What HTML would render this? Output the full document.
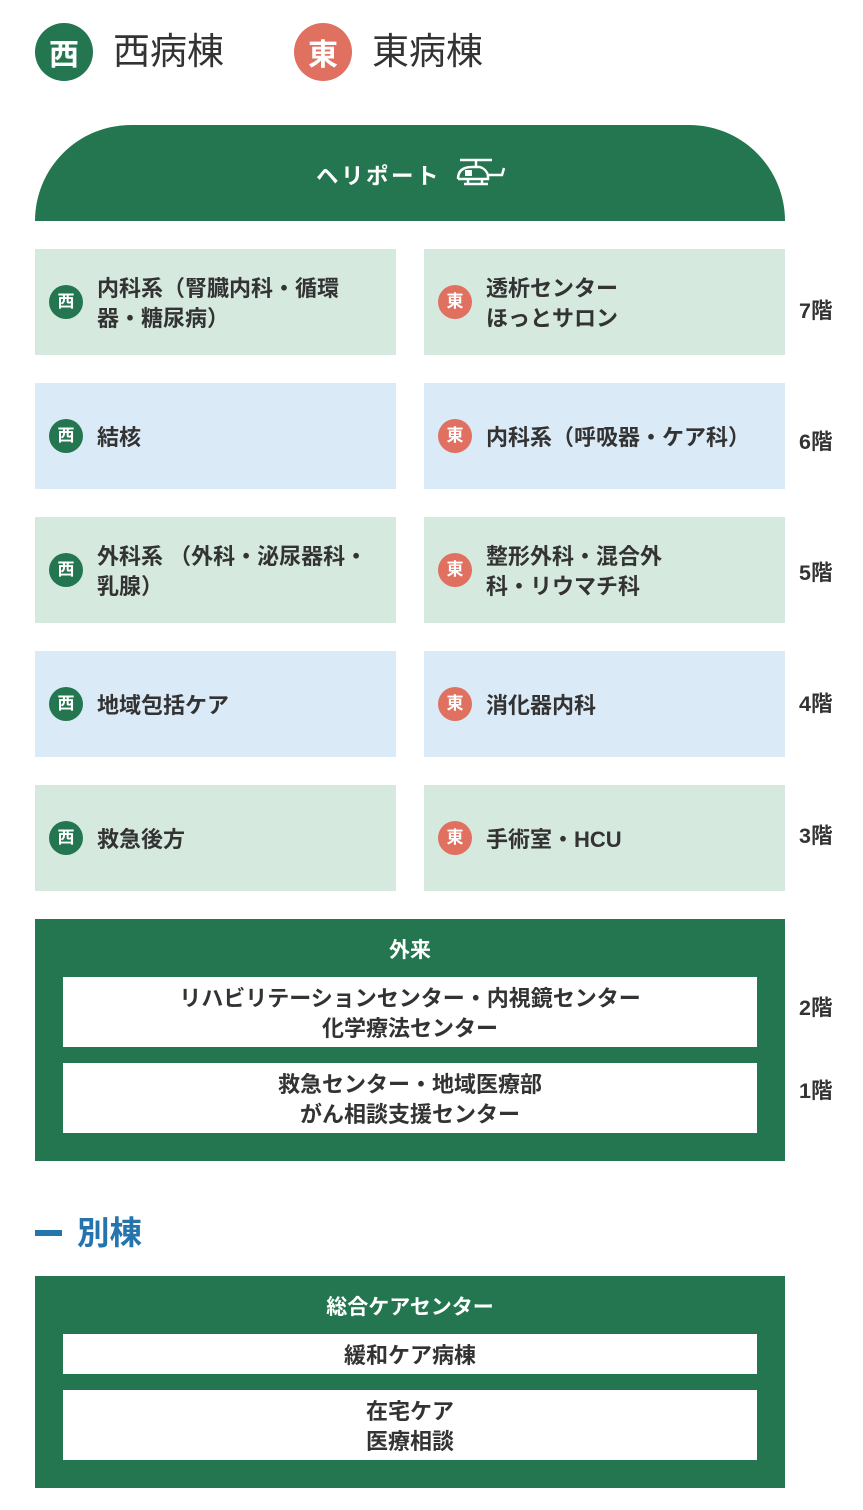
<!DOCTYPE html>
<html><head><meta charset="utf-8"><style>
*{margin:0;padding:0;box-sizing:border-box}
body{width:863px;height:1510px;background:#fff;position:relative;overflow:hidden;font-family:"Liberation Sans","Noto Sans CJK JP",sans-serif;color:#333}
.a{position:absolute}
.big{width:58px;height:58px;border-radius:50%;color:#fff;font-size:30px;font-weight:bold;display:flex;align-items:center;justify-content:center}
.lg{font-size:37px;color:#333;line-height:40px}
.box{position:absolute;height:106px;display:flex;align-items:center;padding-left:62px;font-size:22px;font-weight:bold;line-height:30px;color:#333;padding-top:4px}
.g{background:#d5e9df}.b{background:#daeaf7}
.bd{position:absolute;left:14px;top:36px;width:34px;height:34px;border-radius:50%;color:#fff;font-size:17px;font-weight:bold;display:flex;align-items:center;justify-content:center}
.w{background:#23764f}.e{background:#e07060}
.fl{position:absolute;left:799px;font-size:21.5px;font-weight:bold;color:#333}
.gr{position:absolute;left:35px;width:750px;background:#23764f}
.wb{position:absolute;left:28px;width:694px;background:#fff;display:flex;flex-direction:column;align-items:center;justify-content:center;font-size:22px;font-weight:bold;line-height:30px;color:#333;text-align:center;padding-top:4px}
.tt{position:absolute;left:0;width:750px;text-align:center;color:#fff;font-size:21px;font-weight:bold}
</style></head><body>
<div class="a big w" style="left:35px;top:23px">西</div>
<div class="a lg" style="left:113px;top:32px">西病棟</div>
<div class="a big e" style="left:294px;top:23px">東</div>
<div class="a lg" style="left:372px;top:32px">東病棟</div>

<div class="a" style="left:35px;top:125px;width:750px;height:96px;background:#23764f;border-radius:96px 96px 0 0"></div>
<div class="a" style="left:316px;top:159px;color:#fff;font-size:22.5px;font-weight:bold;letter-spacing:2.5px">ヘリポート</div>
<svg class="a" style="left:450px;top:157px" width="58" height="34" viewBox="0 0 58 34"><g fill="none" stroke="#fff" stroke-width="2.5"><line x1="10" y1="3" x2="42" y2="3"/><line x1="26" y1="3" x2="26" y2="9"/><path d="M8 22 Q8 10 22 10 L30 10 Q36 12 38 18 L52 18 L54 11"/><path d="M8 22 L38 22 L38 18"/><line x1="14" y1="27" x2="38" y2="27"/><line x1="18" y1="22" x2="18" y2="27"/><line x1="32" y1="22" x2="32" y2="27"/></g><rect x="15" y="13" width="7" height="6" fill="#fff"/></svg>

<div class="box g" style="left:35px;top:249px;width:361px"><div class="bd w">西</div>内科系（腎臓内科・循環<br>器・糖尿病）</div>
<div class="box g" style="left:424px;top:249px;width:361px"><div class="bd e">東</div>透析センター<br>ほっとサロン</div>
<div class="fl" style="top:294px">7階</div>
<div class="box b" style="left:35px;top:383px;width:361px"><div class="bd w">西</div>結核</div>
<div class="box b" style="left:424px;top:383px;width:361px"><div class="bd e">東</div>内科系（呼吸器・ケア科）</div>
<div class="fl" style="top:425px">6階</div>
<div class="box g" style="left:35px;top:517px;width:361px"><div class="bd w">西</div>外科系 （外科・泌尿器科・<br>乳腺）</div>
<div class="box g" style="left:424px;top:517px;width:361px"><div class="bd e">東</div>整形外科・混合外<br>科・リウマチ科</div>
<div class="fl" style="top:556px">5階</div>
<div class="box b" style="left:35px;top:651px;width:361px"><div class="bd w">西</div>地域包括ケア</div>
<div class="box b" style="left:424px;top:651px;width:361px"><div class="bd e">東</div>消化器内科</div>
<div class="fl" style="top:687px">4階</div>
<div class="box g" style="left:35px;top:785px;width:361px"><div class="bd w">西</div>救急後方</div>
<div class="box g" style="left:424px;top:785px;width:361px"><div class="bd e">東</div>手術室・HCU</div>
<div class="fl" style="top:819px">3階</div>

<div class="gr" style="top:919px;height:242px">
<div class="tt" style="top:15px">外来</div>
<div class="wb" style="top:58px;height:70px">リハビリテーションセンター・内視鏡センター<br>化学療法センター</div>
<div class="wb" style="top:144px;height:70px">救急センター・地域医療部<br>がん相談支援センター</div>
</div>
<div class="fl" style="top:991px">2階</div>
<div class="fl" style="top:1074px">1階</div>

<div class="a" style="left:35px;top:1230px;width:27px;height:6px;background:#2574ad"></div>
<div class="a" style="left:77px;top:1207px;font-size:32.5px;font-weight:bold;color:#2574ad">別棟</div>

<div class="gr" style="top:1276px;height:212px">
<div class="tt" style="top:15px">総合ケアセンター</div>
<div class="wb" style="top:58px;height:40px">緩和ケア病棟</div>
<div class="wb" style="top:114px;height:70px">在宅ケア<br>医療相談</div>
</div>
</body></html>
